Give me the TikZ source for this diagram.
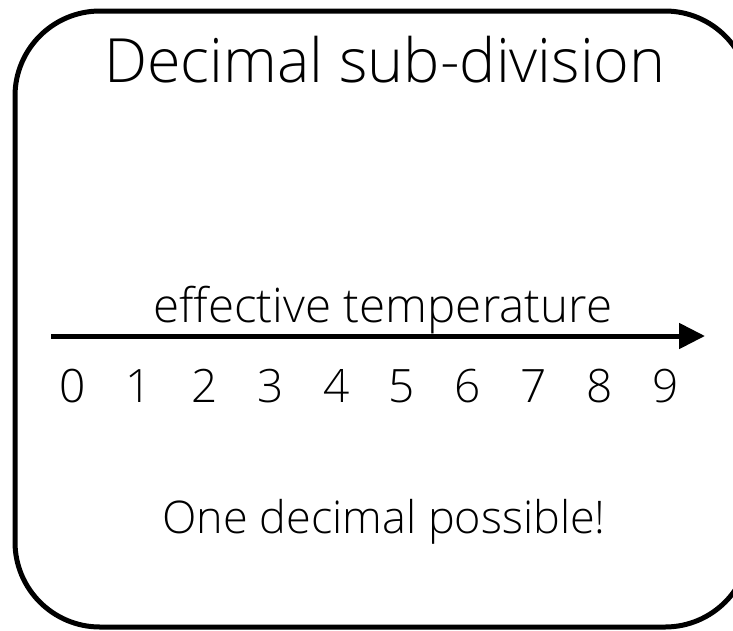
\documentclass[tikz,border=0pt]{standalone}
\usepackage{fontspec}
\setmainfont{Open Sans}[UprightFont={* Light}]
\usetikzlibrary{arrows.meta}
\tikzset{
  frame/.style={line width=5pt, rounded corners=85pt},
  lbl/.style={anchor=base, inner sep=0pt, font=\fontsize{46}{50}\selectfont},
  title/.style={anchor=base, inner sep=0pt, font=\fontsize{61}{70}\selectfont},
  axis/.style={line width=5pt, -{Triangle[length=26pt,width=25pt]}}
}
\begin{document}
\begin{tikzpicture}[x=1pt,y=-1pt]
\useasboundingbox (0,0) rectangle (733,630);
\begin{scope}
\clip (0,0) rectangle (733,630);
\draw[frame] (15,11) rectangle (750,627);
\end{scope}
\node[title] (t) at (385,82) {Decimal sub-division};
\node[lbl, font=\fontsize{47.5}{52}\selectfont] (e) at (383,322) {effective temperature};
\coordinate (a0) at (51,336);
\coordinate (a1) at (705,336);
\draw[axis] (a0) -- (a1);
\foreach \i in {0,...,9} {
  \node[lbl] (d\i) at ({73+65.8*\i},402) {\i};
}
\node[lbl, font=\fontsize{45}{50}\selectfont] (o) at (384,533) {One decimal possible!};
\end{tikzpicture}
\end{document}
